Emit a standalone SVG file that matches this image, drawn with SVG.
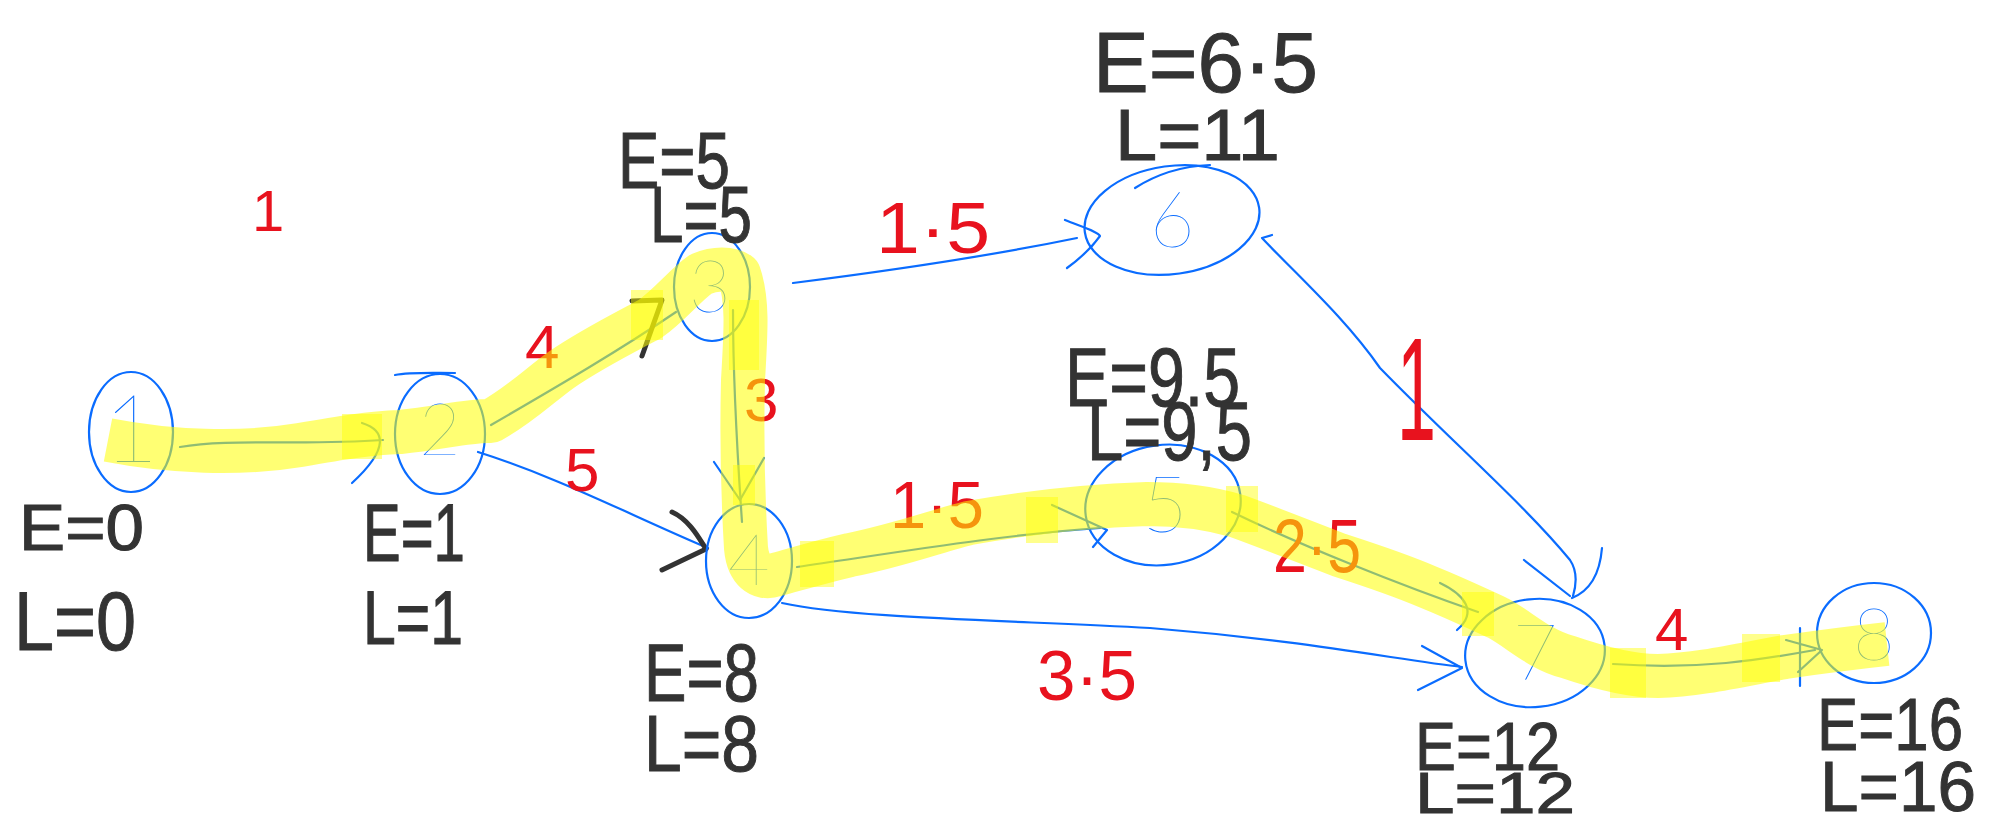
<svg xmlns="http://www.w3.org/2000/svg" width="1999" height="825" viewBox="0 0 1999 825">
<style>
.bg{fill:#ffffff}
.node{fill:none;stroke:#0a6cff;stroke-width:2.2;stroke-linecap:round}
.num{fill:#0a6cff;font-family:Lato,Inter,"Liberation Sans",sans-serif;font-weight:200;text-anchor:middle}
.edge{fill:none;stroke:#0a6cff;stroke-width:2.2;stroke-linecap:round;stroke-linejoin:round}
.head{fill:none;stroke:#0a6cff;stroke-width:2.2;stroke-linecap:round;stroke-linejoin:round}
.khead{fill:none;stroke:#333333;stroke-width:5;stroke-linecap:round;stroke-linejoin:round}
.lab{fill:#333333;font-family:"Liberation Sans",Arial,sans-serif;stroke:#333333;stroke-width:1;}
.w{fill:#e8121e;font-family:"Liberation Sans",Arial,sans-serif}
.hl{fill:none;stroke:#ffff00;stroke-opacity:0.55;stroke-width:44;stroke-linejoin:round;stroke-linecap:butt}
.hb{fill:#ffff00;fill-opacity:0.45}
</style>
<rect class="bg" x="0" y="0" width="1999" height="825"/>

<g id="connectors">
  <path class="edge" d="M180,447 C230,438 300,446 383,440"/>
  <path class="head" d="M362,423 C385,430 390,448 352,483"/>
  <path class="edge" d="M491,425 C560,385 620,350 676,312"/>
  <path class="khead" d="M632,301 L662,300 L642,356"/>
  <path class="edge" d="M478,452 C560,478 630,515 708,548"/>
  <path class="khead" d="M672,512 C690,520 700,540 706,549 L662,570"/>
  <path class="edge" d="M733,310 C733,380 737,450 742,522"/>
  <path class="head" d="M714,462 L740,500 M740,500 L764,458"/>
  <path class="edge" d="M793,283 C880,272 980,258 1077,238"/>
  <path class="head" d="M1065,220 C1085,228 1098,232 1100,236 C1090,250 1078,260 1067,268"/>
  <path class="edge" d="M797,567 C900,552 1000,535 1100,528"/>
  <path class="head" d="M1052,505 L1107,530 L1093,547"/>
  <path class="edge" d="M782,603 C850,618 1000,620 1150,628 C1300,640 1400,660 1462,667"/>
  <path class="head" d="M1422,646 L1462,668 L1418,690"/>
  <path class="edge" d="M1232,512 C1300,545 1400,585 1478,612"/>
  <path class="head" d="M1440,583 C1465,595 1478,612 1457,630"/>
  <path class="edge" d="M1272,235 L1262,238 C1300,278 1345,318 1380,368 C1450,440 1525,505 1570,560 C1578,572 1576,586 1573,596"/>
  <path class="head" d="M1524,560 L1570,596 M1602,548 C1600,572 1592,590 1572,598"/>
  <path class="edge" d="M1613,664 C1700,670 1760,660 1815,650"/>
  <path class="head" d="M1786,640 L1822,650 L1798,672 M1800,628 L1800,686"/>
</g>

<g id="weights">
  <text class="w" x="252" y="231" font-size="58">1</text>
  <text class="w" x="525" y="368" font-size="62">4</text>
  <text class="w" x="876" y="253" font-size="72" textLength="114" lengthAdjust="spacingAndGlyphs">1·5</text>
  <text class="w" x="744" y="421" font-size="62">3</text>
  <text class="w" x="565" y="491" font-size="62">5</text>
  <text class="w" x="890" y="528" font-size="66" textLength="94" lengthAdjust="spacingAndGlyphs">1·5</text>
  <text class="w" x="1273" y="572" font-size="76" textLength="88" lengthAdjust="spacingAndGlyphs">2·5</text>
  <text class="w" x="0" y="0" font-size="70" transform="translate(1397,440) scale(1,2.1)">1</text>
  <text class="w" x="1037" y="700" font-size="70" textLength="100" lengthAdjust="spacingAndGlyphs">3·5</text>
  <text class="w" x="1655" y="650" font-size="60">4</text>
</g>

<g id="node1">
  <ellipse class="node" cx="131" cy="432" rx="42" ry="60"/>
  <text class="num" x="131" y="462" font-size="95">1</text>
  <text class="lab" x="19" y="550" font-size="64" textLength="125" lengthAdjust="spacingAndGlyphs">E=0</text>
  <text class="lab" x="14" y="650" font-size="84" textLength="122" lengthAdjust="spacingAndGlyphs">L=0</text>
</g>
<g id="node2">
  <ellipse class="node" cx="440" cy="434" rx="45" ry="60"/>
  <path class="node" d="M395,375 C410,372 430,373 455,373"/>
  <text class="num" x="440" y="455" font-size="72">2</text>
  <text class="lab" x="363" y="561" font-size="82" textLength="102" lengthAdjust="spacingAndGlyphs">E=1</text>
  <text class="lab" x="363" y="644" font-size="76" textLength="100" lengthAdjust="spacingAndGlyphs">L=1</text>
</g>
<g id="node3">
  <ellipse class="node" cx="712" cy="287" rx="38" ry="54"/>
  <text class="num" x="710" y="312" font-size="72">3</text>
  <text class="lab" x="618" y="188" font-size="80" textLength="112" lengthAdjust="spacingAndGlyphs">E=5</text>
  <text class="lab" x="650" y="242" font-size="80" textLength="102" lengthAdjust="spacingAndGlyphs">L=5</text>
</g>
<g id="node4">
  <ellipse class="node" cx="749" cy="561" rx="43" ry="57"/>
  <text class="num" x="749" y="585" font-size="72">4</text>
  <text class="lab" x="644" y="701" font-size="82" textLength="115" lengthAdjust="spacingAndGlyphs">E=8</text>
  <text class="lab" x="644" y="771" font-size="80" textLength="115" lengthAdjust="spacingAndGlyphs">L=8</text>
</g>
<g id="node5">
  <ellipse class="node" cx="1163" cy="505" rx="78" ry="60" transform="rotate(-8 1163 505)"/>
  <text class="num" x="1165" y="532" font-size="78">5</text>
  <text class="lab" x="1065" y="406" font-size="84" textLength="175" lengthAdjust="spacingAndGlyphs">E=9.5</text>
  <text class="lab" x="1087" y="460" font-size="84" textLength="165" lengthAdjust="spacingAndGlyphs">L=9,5</text>
</g>
<g id="node6">
  <ellipse class="node" cx="1172" cy="220" rx="88" ry="54" transform="rotate(-8 1172 220)"/>
  <path class="node" d="M1135,188 C1160,172 1185,166 1210,165"/>
  <text class="num" x="1172" y="247" font-size="78">6</text>
  <text class="lab" x="1093" y="92" font-size="86" textLength="225" lengthAdjust="spacingAndGlyphs">E=6·5</text>
  <text class="lab" x="1115" y="160" font-size="72" textLength="165" lengthAdjust="spacingAndGlyphs">L=11</text>
</g>
<g id="node7">
  <ellipse class="node" cx="1535" cy="653" rx="70" ry="54" transform="rotate(-6 1535 653)"/>
  <text class="num" x="1535" y="680" font-size="78">7</text>
  <text class="lab" x="1415" y="770" font-size="68" textLength="145" lengthAdjust="spacingAndGlyphs">E=12</text>
  <text class="lab" x="1415" y="813" font-size="58" textLength="160" lengthAdjust="spacingAndGlyphs">L=12</text>
</g>
<g id="node8">
  <ellipse class="node" cx="1874" cy="633" rx="57" ry="50"/>
  <text class="num" x="1874" y="660" font-size="72">8</text>
  <text class="lab" x="1817" y="750" font-size="74" textLength="146" lengthAdjust="spacingAndGlyphs">E=16</text>
  <text class="lab" x="1820" y="811" font-size="70" textLength="156" lengthAdjust="spacingAndGlyphs">L=16</text>
</g>

<g id="highlight">
  <path class="hl" d="M108,440 C170,452 240,455 300,445 C340,438 370,433 400,432 C440,428 470,420 491,421 C520,405 540,385 561,370 C590,350 620,335 650,319 C670,305 685,285 701,274 C715,268 730,268 739,274 C748,300 746,330 743,380 C742,420 742,480 746,548 C748,570 760,580 775,575 C800,568 820,562 850,555 C900,545 940,530 969,523 C1030,512 1090,506 1147,504 C1180,504 1210,508 1237,516 C1270,528 1300,540 1339,555 C1370,565 1400,575 1428,587 C1460,600 1480,610 1498,618 C1520,630 1540,650 1568,657 C1600,668 1630,676 1658,676 C1700,675 1745,664 1785,657 C1820,652 1850,648 1887,644"/>
  <rect class="hb" x="342" y="414" width="40" height="45"/>
  <rect class="hb" x="631" y="290" width="32" height="50"/>
  <rect class="hb" x="729" y="300" width="30" height="70"/>
  <rect class="hb" x="733" y="465" width="22" height="40"/>
  <rect class="hb" x="800" y="541" width="34" height="46"/>
  <rect class="hb" x="1026" y="497" width="32" height="46"/>
  <rect class="hb" x="1226" y="486" width="32" height="46"/>
  <rect class="hb" x="1462" y="592" width="32" height="44"/>
  <rect class="hb" x="1610" y="648" width="36" height="50"/>
  <rect class="hb" x="1742" y="634" width="38" height="48"/>
</g>
</svg>
